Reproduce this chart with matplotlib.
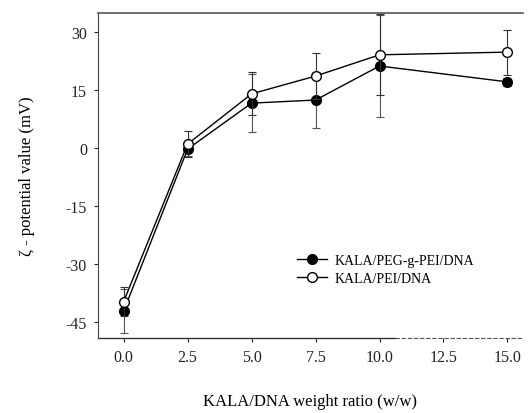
import numpy as np
import matplotlib.pyplot as plt
from matplotlib.lines import Line2D

plt.rcParams['font.family'] = ['Liberation Serif', 'DejaVu Serif']
plt.rcParams['axes.unicode_minus'] = False

# --- Data ---
ratio = [0.0, 2.5, 5.0, 7.5, 10.0, 15.0]
peg_mean = [-42.2, -0.3, 11.6, 12.4, 21.2, 17.1]
peg_err = [5.6, 1.8, 7.6, 7.3, 13.3, 1.0]
pei_mean = [-39.8, 1.0, 14.0, 18.6, 24.1, 24.8]
pei_err = [3.8, 3.4, 5.6, 6.0, 10.5, 5.8]

x_ticks = [0.0, 2.5, 5.0, 7.5, 10.0, 12.5, 15.0]
y_ticks = [-45, -30, -15, 0, 15, 30]

fig = plt.figure(figsize=(5.31, 4.14), dpi=100)
ax = fig.add_axes([0.1846, 0.181, 0.80, 0.785])

ax.errorbar(ratio, peg_mean, yerr=peg_err, fmt='-o', color='black',
            mfc='black', mec='black', ms=7, lw=1.0, elinewidth=0.8,
            ecolor='#555555', capsize=3, capthick=0.8, zorder=3)
ax.errorbar(ratio, pei_mean, yerr=pei_err, fmt='-o', color='black',
            mfc='white', mec='black', ms=7, lw=1.0, elinewidth=0.8,
            ecolor='#333333', capsize=3, capthick=0.8, zorder=4)

ax.set_xlim(-1.0, 15.6)
ax.set_ylim(-49.2, 34.9)
ax.set_xticks(x_ticks)
ax.set_xticklabels([f"{v:.1f}" for v in x_ticks])
ax.set_yticks(y_ticks)
ax.tick_params(direction='out', length=3, width=0.8, labelsize=11.5, pad=5,
               colors='#222222')

ax.spines['right'].set_visible(False)
ax.spines['top'].set_color('#555555')
ax.spines['top'].set_linewidth(1.2)
ax.spines['left'].set_color('#444444')
ax.spines['bottom'].set_visible(False)
# bottom axis line: solid, then faint dashed towards the right end
ax.plot([0, 0.70], [0, 0], transform=ax.transAxes, color='#333333',
        lw=1.0, clip_on=False)
ax.plot([0.70, 1.0], [0, 0], transform=ax.transAxes, color='#555555',
        lw=0.8, ls=(0, (4, 1.5)), clip_on=False)

ax.set_xlabel('KALA/DNA weight ratio (w/w)', fontsize=12, labelpad=20)
ax.set_ylabel('ζ - potential value (mV)', fontsize=12, labelpad=22)

handles = [
    Line2D([], [], color='black', marker='o', mfc='black', mec='black',
           ms=7, lw=1.0),
    Line2D([], [], color='black', marker='o', mfc='white', mec='black',
           ms=7, lw=1.0),
]
labels = ['KALA/PEG-g-PEI/DNA', 'KALA/PEI/DNA']
ax.legend(handles, labels, loc='upper left', bbox_to_anchor=(0.455, 0.275),
          frameon=False, fontsize=10, handlelength=2.2, handletextpad=0.5,
          labelspacing=0.35, borderaxespad=0)

fig.savefig('out.png', dpi=100)
